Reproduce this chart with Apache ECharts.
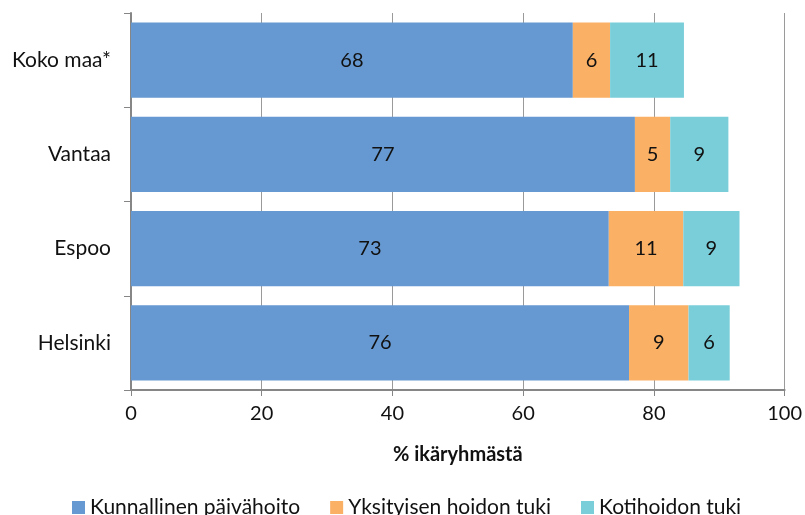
<!DOCTYPE html>
<html>
<head>
<meta charset="utf-8">
<script src="https://cdn.jsdelivr.net/npm/echarts@6/dist/echarts.min.js"></script>
<style>
html,body{margin:0;padding:0;background:#fff}
#chart{width:805px;height:515px}
</style>
</head>
<body>
<div id="chart"></div>
<script type="text/javascript">
var categories = ['Helsinki', 'Espoo', 'Vantaa', 'Koko maa*'];
var kunnallinen = [76.2, 73.1, 77.1, 67.6];
var yksityinen = [9.1, 11.4, 5.4, 5.7];
var kotihoito = [6.3, 8.6, 8.9, 11.3];
var seriesNames = ['Kunnallinen päivähoito', 'Yksityisen hoidon tuki', 'Kotihoidon tuki'];
var colors = ['#6699d1', '#fab065', '#79ced9'];

var font = 'Lato, "Open Sans", sans-serif';

function mkSeries(name, data, color) {
	return {
		name: name,
		type: 'bar',
		stack: 'total',
		data: data,
		barCategoryGap: '20%',
		itemStyle: { color: color },
		label: {
			show: true,
			position: 'inside',
			color: '#111',
			fontFamily: font,
			fontSize: 20,
			formatter: function (p) { return Math.round(p.value); }
		}
	};
}

var option = {
	animation: false,
	color: colors,
	grid: { left: 131, right: 19, top: 13, bottom: 125, containLabel: false },
	legend: {
		top: 492,
		left: 67,
		itemGap: 30,
		itemWidth: 13,
		itemHeight: 13,
		icon: 'rect',
		textStyle: { fontFamily: font, fontSize: 21, color: '#111' },
		data: seriesNames
	},
	xAxis: {
		type: 'value',
		min: 0,
		max: 100,
		interval: 20,
		name: '% ikäryhmästä',
		nameLocation: 'middle',
		nameGap: 55,
		nameTextStyle: { fontFamily: font, fontSize: 20, fontWeight: 'bold', color: '#111' },
		axisLine: { show: true, lineStyle: { color: '#868686', width: 2 } },
		axisTick: { show: true, length: 6, lineStyle: { color: '#868686' } },
		axisLabel: { fontFamily: font, fontSize: 20, color: '#111', margin: 14 },
		splitLine: { show: true, lineStyle: { color: '#9a9a9a', width: 1 } }
	},
	yAxis: {
		type: 'category',
		data: categories,
		axisLine: { show: true, lineStyle: { color: '#868686', width: 2 } },
		axisTick: { show: true, length: 7, lineStyle: { color: '#868686' } },
		axisLabel: { fontFamily: font, fontSize: 21, color: '#111', margin: 20 }
	},
	series: [
		mkSeries(seriesNames[0], kunnallinen, colors[0]),
		mkSeries(seriesNames[1], yksityinen, colors[1]),
		mkSeries(seriesNames[2], kotihoito, colors[2])
	]
};

var myChart = echarts.init(document.getElementById('chart'));
myChart.setOption(option);
</script>
</body>
</html>
